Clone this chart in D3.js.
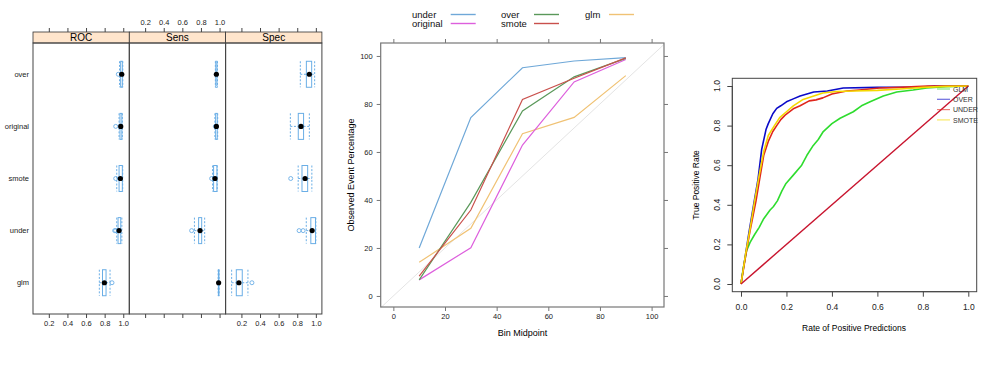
<!DOCTYPE html>
<meta charset="utf-8">
<style>
  body { margin: 0; background: #fff; }
  svg { font-family: "Liberation Sans", Arial, sans-serif; }
</style>
<body>
<div id="chart"></div>
<script src="https://d3js.org/d3.v7.min.js"></script>
<script>
// ---------- data: resampling box plots (bottom row first) ----------
var models = ["glm", "under", "smote", "original", "over"];
var metrics = ["ROC", "Sens", "Spec"];
var boxTicks = [0.2, 0.4, 0.6, 0.8, 1.0];

// [lower whisker, q1, median, q3, upper whisker] per model
var rocBox = [[0.743, 0.777, 0.797, 0.815, 0.858], [0.93, 0.944, 0.955, 0.973, 0.985], [0.93, 0.955, 0.969, 0.99, 0.994], [0.955, 0.965, 0.973, 0.985, 0.99], [0.96, 0.972, 0.984, 0.99, 0.995]];
var rocOut = [[0.879], [0.908, 0.918], [0.919], [0.919], [0.947]];
var sensBox = [[0.985, 0.988, 0.99, 0.993, 0.995], [0.73, 0.775, 0.79, 0.808, 0.84], [0.925, 0.936, 0.951, 0.972, 0.975], [0.95, 0.958, 0.966, 0.975, 0.98], [0.955, 0.96, 0.966, 0.972, 0.978]];
var sensOut = [[], [0.70], [0.915], [0.955], []];
var specBox = [[0.095, 0.145, 0.173, 0.209, 0.27], [0.897, 0.946, 0.96, 0.996, 1.0], [0.81, 0.851, 0.884, 0.912, 0.957], [0.726, 0.811, 0.84, 0.868, 0.93], [0.833, 0.898, 0.93, 0.955, 0.987]];
var specOut = [[0.313], [0.82, 0.863], [0.73], [], []];

// ---------- data: calibration ----------
var binMid = [10, 30, 50, 70, 90];
var calUnder = [20, 74.3, 95.1, 97.9, 99.3];
var calOriginal = [6.7, 20.1, 62.9, 89.2, 98.5];
var calOver = [6.7, 39, 77.1, 91.3, 99];
var calSmote = [8.3, 35.8, 81.9, 90.7, 99.2];
var calGlm = [14, 28.2, 67.6, 74.4, 91.8];
var calTicks = [0, 20, 40, 60, 80, 100];

// ---------- data: ROC curves [fpr, tpr] ----------
var rocGlm = [[0, 0], [0.01, 0.08], [0.025, 0.17], [0.04, 0.21], [0.06, 0.25], [0.08, 0.286], [0.1, 0.33], [0.128, 0.374], [0.142, 0.39], [0.16, 0.42], [0.18, 0.47], [0.198, 0.508], [0.23, 0.55], [0.267, 0.6], [0.29, 0.65], [0.318, 0.7], [0.34, 0.73], [0.362, 0.77], [0.4, 0.81], [0.436, 0.837], [0.494, 0.87], [0.53, 0.9], [0.568, 0.92], [0.626, 0.95], [0.685, 0.97], [0.757, 0.98], [0.817, 0.99], [0.9, 0.997], [1, 1]];
var rocOver = [[0, 0], [0.02, 0.15], [0.035, 0.26], [0.057, 0.41], [0.075, 0.53], [0.091, 0.68], [0.11, 0.78], [0.12, 0.81], [0.14, 0.86], [0.157, 0.887], [0.175, 0.9], [0.2, 0.92], [0.23, 0.935], [0.26, 0.95], [0.29, 0.96], [0.32, 0.97], [0.38, 0.975], [0.45, 0.99], [0.6, 0.993], [0.8, 0.995], [0.85, 1], [1, 1]];
var rocUnder = [[0, 0], [0.02, 0.14], [0.04, 0.27], [0.066, 0.42], [0.085, 0.55], [0.1, 0.65], [0.12, 0.72], [0.14, 0.77], [0.157, 0.8], [0.175, 0.83], [0.194, 0.853], [0.23, 0.885], [0.26, 0.9], [0.3, 0.925], [0.33, 0.93], [0.36, 0.94], [0.4, 0.96], [0.465, 0.975], [0.52, 0.98], [0.61, 0.99], [0.7, 0.993], [0.82, 1], [1, 1]];
var rocSmote = [[0, 0], [0.02, 0.15], [0.04, 0.28], [0.06, 0.42], [0.08, 0.55], [0.1, 0.67], [0.12, 0.75], [0.147, 0.8], [0.17, 0.84], [0.2, 0.87], [0.23, 0.9], [0.27, 0.93], [0.32, 0.95], [0.36, 0.965], [0.42, 0.972], [0.5, 0.975], [0.6, 0.978], [0.7, 0.985], [0.8, 0.993], [0.9, 0.998], [1, 1]];
var rocTicks = [0, 0.2, 0.4, 0.6, 0.8, 1.0];

var svg = d3.select("#chart").append("svg")
  .attr("width", 1000).attr("height", 369);
svg.append("rect").attr("width", 1000).attr("height", 369).attr("fill", "#fff");

// ================= panel 1: lattice bwplot =================
var boxData = [rocBox, sensBox, specBox];
var outData = [rocOut, sensOut, specOut];
var bwLeft = 33, bwW = 96.3, bwTop = 43, bwBottom = 314;
var boxCol = "#6aaee6";

var bwY = d3.scaleLinear().domain([0.4, 5.6]).range([bwBottom, bwTop]);

metrics.forEach(function (m, i) {
  var x0 = bwLeft + i * bwW;
  var bx = d3.scaleLinear().domain([0.03, 1.065]).range([x0, x0 + bwW]);
  var g = svg.append("g");

  // strip
  g.append("rect").attr("x", x0).attr("y", 32).attr("width", bwW).attr("height", bwTop - 32)
    .attr("fill", "#ffe5cc").attr("stroke", "#333").attr("stroke-width", 0.8);
  g.append("text").attr("x", x0 + bwW / 2).attr("y", 41).attr("text-anchor", "middle")
    .attr("font-size", 10).text(m);

  // axes (alternating labels like lattice)
  var top = g.append("g").attr("transform", "translate(0,32)")
    .call(d3.axisTop(bx).tickValues(boxTicks).tickSize(4).tickPadding(3)
      .tickFormat(i === 1 ? d3.format(".1f") : ""));
  var bot = g.append("g").attr("transform", "translate(0," + bwBottom + ")")
    .call(d3.axisBottom(bx).tickValues(boxTicks).tickSize(4).tickPadding(3)
      .tickFormat(i === 1 ? "" : d3.format(".1f")));
  [top, bot].forEach(function (a) {
    a.select(".domain").remove();
    a.selectAll("line").attr("stroke", "#444");
    a.selectAll("text").attr("font-size", 7.5).attr("fill", "#222")
      .style("font-family", "Liberation Sans, Arial, sans-serif");
  });

  // boxes
  boxData[i].forEach(function (s, k) {
    var cy = bwY(k + 1), h = 13;
    var dash = "2,1.6";
    g.append("line").attr("x1", bx(s[0])).attr("x2", bx(s[1])).attr("y1", cy).attr("y2", cy)
      .attr("stroke", boxCol).attr("stroke-dasharray", dash);
    g.append("line").attr("x1", bx(s[3])).attr("x2", bx(s[4])).attr("y1", cy).attr("y2", cy)
      .attr("stroke", boxCol).attr("stroke-dasharray", dash);
    [s[0], s[4]].forEach(function (v) {
      g.append("line").attr("x1", bx(v)).attr("x2", bx(v)).attr("y1", cy - h).attr("y2", cy + h)
        .attr("stroke", boxCol).attr("stroke-dasharray", dash);
    });
    g.append("rect").attr("x", bx(s[1])).attr("y", cy - h)
      .attr("width", Math.max(bx(s[3]) - bx(s[1]), 0.5)).attr("height", 2 * h)
      .attr("fill", "none").attr("stroke", boxCol);
    outData[i][k].forEach(function (v) {
      g.append("circle").attr("cx", bx(v)).attr("cy", cy).attr("r", 2)
        .attr("fill", "none").attr("stroke", boxCol).attr("stroke-width", 0.9);
    });
    g.append("circle").attr("cx", bx(s[2])).attr("cy", cy).attr("r", 2.6).attr("fill", "#000");
  });

  // panel frame
  g.append("rect").attr("x", x0).attr("y", bwTop).attr("width", bwW).attr("height", bwBottom - bwTop)
    .attr("fill", "none").attr("stroke", "#444").attr("stroke-width", 1);
});

// row labels
models.forEach(function (mname, k) {
  svg.append("text").attr("x", 29).attr("y", bwY(k + 1) + 2.5).attr("text-anchor", "end")
    .attr("font-size", 7.5).attr("fill", "#222").text(mname);
});

// ================= panel 2: calibration =================
var calX = d3.scaleLinear().domain([-4.9, 104.8]).range([380.7, 664]);
var calY = d3.scaleLinear().domain([-4.6, 105.4]).range([307, 43]);
var calSeries = [
  { name: "glm", vals: calGlm, col: "#f0c274" },
  { name: "original", vals: calOriginal, col: "#dd5fdd" },
  { name: "under", vals: calUnder, col: "#6fa8d8" },
  { name: "over", vals: calOver, col: "#5a985a" },
  { name: "smote", vals: calSmote, col: "#c9504c" }
];
var calG = svg.append("g");

// reference diagonal
calG.append("line").attr("x1", calX(-4.9)).attr("y1", calY(-4.9)).attr("x2", calX(104.8)).attr("y2", calY(104.8))
  .attr("stroke", "#e4e4e4").attr("stroke-width", 1);

var calLine = d3.line().x(function (d) { return calX(d[0]); }).y(function (d) { return calY(d[1]); });
calSeries.forEach(function (s) {
  calG.append("path").datum(binMid.map(function (b, j) { return [b, s.vals[j]]; }))
    .attr("d", calLine).attr("fill", "none").attr("stroke", s.col).attr("stroke-width", 1.2);
});

calG.append("rect").attr("x", 380.7).attr("y", 43).attr("width", 664 - 380.7).attr("height", 307 - 43)
  .attr("fill", "none").attr("stroke", "#777").attr("stroke-width", 1.2);

function styleAxis(a, fs) {
  a.select(".domain").remove();
  a.selectAll("line").attr("stroke", "#777");
  a.selectAll("text").attr("font-size", fs).attr("fill", "#222")
    .style("font-family", "Liberation Sans, Arial, sans-serif");
}
styleAxis(calG.append("g").attr("transform", "translate(0,307)")
  .call(d3.axisBottom(calX).tickValues(calTicks).tickSize(4).tickPadding(3)), 7.5);
styleAxis(calG.append("g").attr("transform", "translate(0,43)")
  .call(d3.axisTop(calX).tickValues(calTicks).tickSize(4).tickFormat("")), 7.5);
styleAxis(calG.append("g").attr("transform", "translate(380.7,0)")
  .call(d3.axisLeft(calY).tickValues(calTicks).tickSize(4).tickPadding(4)), 7.5);
styleAxis(calG.append("g").attr("transform", "translate(664,0)")
  .call(d3.axisRight(calY).tickValues(calTicks).tickSize(4).tickFormat("")), 7.5);

calG.append("text").attr("x", 522.5).attr("y", 336).attr("text-anchor", "middle")
  .attr("font-size", 9).text("Bin Midpoint");
calG.append("text").attr("transform", "translate(354,175) rotate(-90)").attr("text-anchor", "middle")
  .attr("font-size", 9).text("Observed Event Percentage");

// legend
var calKey = [
  { name: "under", col: "#6fa8d8", x: 412, y: 18 },
  { name: "original", col: "#dd5fdd", x: 412, y: 27 },
  { name: "over", col: "#5a985a", x: 501, y: 18 },
  { name: "smote", col: "#c9504c", x: 501, y: 27 },
  { name: "glm", col: "#f0c274", x: 585, y: 18 }
];
var lineX = { 412: [450.7, 475.7], 501: [534, 559], 585: [609, 634] };
calKey.forEach(function (k) {
  calG.append("text").attr("x", k.x).attr("y", k.y).attr("font-size", 9.5).attr("fill", "#111").text(k.name);
  calG.append("line").attr("x1", lineX[k.x][0]).attr("x2", lineX[k.x][1])
    .attr("y1", k.y - 3.5).attr("y2", k.y - 3.5).attr("stroke", k.col).attr("stroke-width", 1.4);
});

// ================= panel 3: ROC curves (base graphics) =================
var rx = d3.scaleLinear().domain([0, 1]).range([741, 968.3]);
var ry = d3.scaleLinear().domain([0, 1]).range([284, 86]);
var rocG = svg.append("g");
var rocLine = d3.line().x(function (d) { return rx(d[0]); }).y(function (d) { return ry(d[1]); });
var rocSeries = [
  { name: "GLM", pts: rocGlm, col: "#2edc2e" },
  { name: "OVER", pts: rocOver, col: "#0a0ac8" },
  { name: "UNDER", pts: rocUnder, col: "#e0261c" },
  { name: "SMOTE", pts: rocSmote, col: "#f5d800" }
];
rocSeries.forEach(function (s) {
  rocG.append("path").datum(s.pts).attr("d", rocLine).attr("fill", "none")
    .attr("stroke", s.col).attr("stroke-width", 1.6).attr("stroke-linejoin", "round");
});
rocG.append("line").attr("x1", rx(0)).attr("y1", ry(0)).attr("x2", rx(1)).attr("y2", ry(1))
  .attr("stroke", "#c8142e").attr("stroke-width", 1.4);

rocG.append("rect").attr("x", 732.3).attr("y", 78.3).attr("width", 976.7 - 732.3).attr("height", 291.7 - 78.3)
  .attr("fill", "none").attr("stroke", "#444").attr("stroke-width", 1);

var rxAxis = rocG.append("g").attr("transform", "translate(0,291.7)")
  .call(d3.axisBottom(rx).tickValues(rocTicks).tickSize(5).tickPadding(7).tickFormat(d3.format(".1f")));
rxAxis.select(".domain").attr("stroke", "#444").attr("d", "M" + rx(0) + ",0H" + rx(1));
rxAxis.selectAll("line").attr("stroke", "#444");
rxAxis.selectAll("text").attr("font-size", 8.5).attr("fill", "#222")
  .style("font-family", "Liberation Sans, Arial, sans-serif");

var ryAxis = rocG.append("g").attr("transform", "translate(732.3,0)")
  .call(d3.axisLeft(ry).tickValues(rocTicks).tickSize(5).tickFormat(""));
ryAxis.select(".domain").attr("stroke", "#444").attr("d", "M0," + ry(0) + "V" + ry(1));
ryAxis.selectAll("line").attr("stroke", "#444");
rocTicks.forEach(function (t) {
  rocG.append("text").attr("transform", "translate(719.5," + ry(t) + ") rotate(-90)")
    .attr("text-anchor", "middle").attr("font-size", 8.5).attr("fill", "#222").text(t.toFixed(1));
});

rocG.append("text").attr("x", 854).attr("y", 331).attr("text-anchor", "middle")
  .attr("font-size", 8.5).text("Rate of Positive Predictions");
rocG.append("text").attr("transform", "translate(699,185) rotate(-90)").attr("text-anchor", "middle")
  .attr("font-size", 8.5).text("True Positive Rate");

// legend (no box)
rocSeries.forEach(function (s, i) {
  var y = 89 + i * 10.3;
  rocG.append("line").attr("x1", 937).attr("x2", 950).attr("y1", y).attr("y2", y)
    .attr("stroke", s.col).attr("stroke-width", 1.2).attr("stroke-opacity", 0.6);
  rocG.append("text").attr("x", 953).attr("y", y + 2.6).attr("font-size", 7).attr("fill", "#333").text(s.name);
});
</script>
</body>
